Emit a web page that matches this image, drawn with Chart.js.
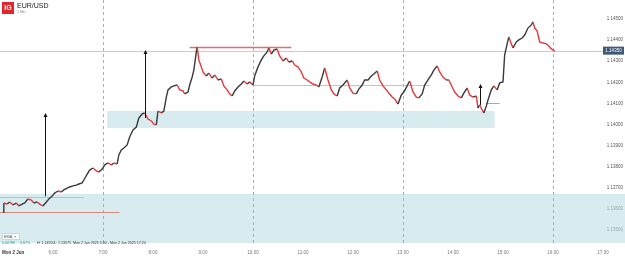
<!DOCTYPE html>
<html>
<head>
<meta charset="utf-8">
<script src="https://cdn.jsdelivr.net/npm/chart.js@4"></script>
<style>
  html, body { margin: 0; padding: 0; background: #fff; }
  #wrap { width: 625px; height: 257px; position: relative; }
</style>
</head>
<body>
<div id="wrap"><canvas id="chart"></canvas></div>
<script>
// ===== EUR/USD 1 MIN CHART =====

// time of each close, Mon 2 Jun
const times = [
  '05:00','05:01','05:05','05:08','05:12','05:16','05:19','05:23','05:26','05:30',
  '05:34','05:37','05:41','05:44','05:48','05:52','05:55','05:59','06:02','06:06',
  '06:10','06:13','06:17','06:20','06:24','06:28','06:31','06:35','06:37','06:41',
  '06:44','06:48','06:52','06:55','06:59','07:02','07:06','07:10','07:13','07:17',
  '07:19','07:22','07:25','07:29','07:32','07:36','07:40','07:43','07:47','07:50',
  '07:54','07:58','08:01','08:04','08:06','08:10','08:13','08:16','08:18','08:22',
  '08:25','08:29','08:32','08:36','08:38','08:42','08:44','08:47','08:49','08:52',
  '08:53','08:55','08:58','09:00','09:04','09:07','09:11','09:14','09:18','09:22',
  '09:25','09:29','09:32','09:35','09:38','09:42','09:46','09:49','09:53','09:56',
  '10:00','10:02','10:06','10:10','10:13','10:17','10:19','10:22','10:25','10:29',
  '10:32','10:36','10:40','10:43','10:47','10:50','10:54','10:58','11:01','11:05',
  '11:08','11:12','11:16','11:19','11:23','11:26','11:30','11:34','11:37','11:41',
  '11:44','11:48','11:53','11:56','12:00','12:04','12:07','12:11','12:14','12:18',
  '12:22','12:25','12:29','12:32','12:36','12:40','12:43','12:47','12:50','12:54',
  '12:58','13:01','13:05','13:08','13:12','13:16','13:19','13:23','13:26','13:30',
  '13:34','13:37','13:41','13:44','13:48','13:52','13:55','13:59','14:02','14:06',
  '14:10','14:13','14:17','14:20','14:24','14:28','14:30','14:32','14:35','14:37',
  '14:40','14:42','14:46','14:49','14:53','14:56','15:00','15:02','15:05','15:07',
  '15:10','15:12','15:16','15:19','15:23','15:26','15:30','15:34','15:36','15:38',
  '15:41','15:44','15:48','15:52','15:55','15:58','16:02'
];

const closes = [
  1.13585,1.13628,1.13623,1.13633,1.13619,1.13628,1.13614,1.13623,1.13628,1.13647,
  1.13642,1.13628,1.13633,1.13623,1.13614,1.13633,1.13647,1.13661,1.13675,1.13685,
  1.13680,1.13690,1.13699,1.13704,1.13709,1.13713,1.13718,1.13723,1.13737,1.13765,
  1.13784,1.13794,1.13780,1.13775,1.13789,1.13808,1.13818,1.13808,1.13818,1.13813,
  1.13856,1.13879,1.13889,1.13903,1.13941,1.13974,1.13988,1.14031,1.14050,1.14055,
  1.14026,1.14017,1.14002,1.13998,1.14064,1.14055,1.14064,1.14130,1.14164,1.14178,
  1.14183,1.14187,1.14164,1.14159,1.14145,1.14154,1.14187,1.14225,1.14258,1.14344,
  1.14367,1.14306,1.14273,1.14249,1.14230,1.14244,1.14220,1.14235,1.14211,1.14216,
  1.14183,1.14164,1.14145,1.14135,1.14159,1.14178,1.14192,1.14206,1.14192,1.14202,
  1.14187,1.14230,1.14273,1.14306,1.14325,1.14344,1.14363,1.14334,1.14353,1.14358,
  1.14325,1.14301,1.14315,1.14296,1.14301,1.14282,1.14273,1.14249,1.14220,1.14211,
  1.14202,1.14192,1.14187,1.14178,1.14225,1.14268,1.14211,1.14164,1.14145,1.14135,
  1.14173,1.14187,1.14211,1.14173,1.14149,1.14145,1.14168,1.14187,1.14211,1.14211,
  1.14230,1.14239,1.14254,1.14211,1.14183,1.14164,1.14149,1.14130,1.14121,1.14097,
  1.14140,1.14154,1.14183,1.14206,1.14154,1.14130,1.14126,1.14145,1.14187,1.14211,
  1.14235,1.14258,1.14277,1.14249,1.14225,1.14211,1.14211,1.14178,1.14154,1.14135,
  1.14126,1.14149,1.14173,1.14140,1.14130,1.14135,1.14078,1.14093,1.14069,1.14055,
  1.14088,1.14116,1.14164,1.14183,1.14164,1.14197,1.14202,1.14330,1.14382,1.14415,
  1.14382,1.14363,1.14391,1.14401,1.14410,1.14424,1.14457,1.14472,1.14486,1.14457,
  1.14443,1.14391,1.14386,1.14382,1.14372,1.14358,1.14348
];

// axis ticks
const hourTicks = ['06:00','07:00','08:00','09:00','10:00','11:00','12:00','13:00','14:00','15:00','16:00','17:00'];
const priceTicks = [1.135,1.136,1.137,1.138,1.139,1.140,1.141,1.142,1.143,1.144,1.145];
const sessionLines = ['07:00','10:00','13:00','16:00'];

// drawn zones / levels / arrows (from: null = left edge)
const zones = [
  { from: null,    to: null,    top: 1.13671, bottom: null },
  { from: '07:05', to: '14:50', top: 1.14064, bottom: 1.13983 }
];
const levels = [
  { from: '08:44', to: '10:46', price: 1.14367, color: 'rgba(235,80,80,0.85)', width: 1.5 },
  { from: '10:00', to: '13:32', price: 1.14187, color: '#c4c4c4', width: 1 },
  { from: null,    to: '06:37', price: 1.13656, color: '#b9c3c6', width: 1 },
  { from: null,    to: '07:20', price: 1.13585, color: 'rgba(225,110,110,0.8)', width: 1 },
  { from: '14:40', to: '14:56', price: 1.14102, color: 'rgba(225,110,110,0.8)', width: 1 }
];
const arrows = [
  { at: '05:50', from: 1.13660, to: 1.14055 },
  { at: '07:50', from: 1.14031, to: 1.14353 },
  { at: '14:32', from: 1.14093, to: 1.14192 }
];
const lastPrice = 1.14350;

const toMin = s => {
  const [h, m] = s.split(':').map(Number);
  return (h - 5) * 60 + m;
};

const points = times.map((t, i) => ({ x: toMin(t), y: closes[i] }));

const overlayPlugin = {
  id: 'overlay',
  beforeDatasetsDraw(chart) {
    const { ctx, chartArea, scales } = chart;
    const xs = scales.x, ys = scales.y;
    const px = t => (t ? xs.getPixelForValue(toMin(t)) : 0);
    ctx.save();

    // zones
    ctx.fillStyle = 'rgba(190,222,228,0.6)';
    zones.forEach(z => {
      const x1 = px(z.from);
      const x2 = z.to ? px(z.to) : chart.width;
      const y1 = ys.getPixelForValue(z.top);
      const y2 = z.bottom ? ys.getPixelForValue(z.bottom) : chartArea.bottom - 2;
      ctx.fillRect(x1, y1, x2 - x1, y2 - y1);
    });

    // last price line
    const yl = Math.round(ys.getPixelForValue(lastPrice)) + 0.5;
    ctx.strokeStyle = '#c9ccd6';
    ctx.lineWidth = 1;
    ctx.beginPath();
    ctx.moveTo(0, yl);
    ctx.lineTo(603, yl);
    ctx.stroke();

    // session separators
    ctx.strokeStyle = '#6fc6d0';
    ctx.setLineDash([3, 3]);
    sessionLines.forEach(t => {
      const x = Math.round(px(t)) + 0.5;
      ctx.beginPath();
      ctx.moveTo(x, 0);
      ctx.lineTo(x, chartArea.bottom - 2);
      ctx.stroke();
    });
    ctx.setLineDash([]);

    // levels
    levels.forEach(l => {
      const y = Math.round(ys.getPixelForValue(l.price)) + 0.5;
      ctx.strokeStyle = l.color;
      ctx.lineWidth = l.width;
      ctx.beginPath();
      ctx.moveTo(px(l.from), y);
      ctx.lineTo(px(l.to), y);
      ctx.stroke();
    });
    ctx.restore();
  },
  afterDatasetsDraw(chart) {
    const { ctx, chartArea, scales } = chart;
    const xs = scales.x, ys = scales.y;
    ctx.save();

    // arrows
    ctx.strokeStyle = '#111';
    ctx.fillStyle = '#111';
    ctx.lineWidth = 1;
    arrows.forEach(a => {
      const x = Math.round(xs.getPixelForValue(toMin(a.at))) + 0.5;
      const y1 = ys.getPixelForValue(a.from);
      const y2 = ys.getPixelForValue(a.to);
      ctx.beginPath();
      ctx.moveTo(x, y1);
      ctx.lineTo(x, y2 + 2);
      ctx.stroke();
      ctx.beginPath();
      ctx.moveTo(x, y2);
      ctx.lineTo(x - 2, y2 + 4);
      ctx.lineTo(x + 2, y2 + 4);
      ctx.closePath();
      ctx.fill();
    });

    // last price tag
    const yl = ys.getPixelForValue(lastPrice);
    ctx.fillStyle = '#3e5878';
    ctx.fillRect(603, yl - 4, 21, 8);
    ctx.fillStyle = '#fff';
    ctx.font = '4.5px "Liberation Sans", Arial, sans-serif';
    ctx.textAlign = 'center';
    ctx.textBaseline = 'middle';
    ctx.fillText(lastPrice.toFixed(5), 613.5, yl + 0.3);

    // header
    ctx.fillStyle = '#e3262b';
    ctx.fillRect(2, 2, 12, 12);
    ctx.fillStyle = '#fff';
    ctx.font = 'bold 7px "Liberation Sans", Arial, sans-serif';
    ctx.fillText('IG', 8, 8.5);
    ctx.textAlign = 'left';
    ctx.fillStyle = '#222';
    ctx.font = '7px "Liberation Sans", Arial, sans-serif';
    ctx.fillText('EUR/USD', 17, 6);
    ctx.fillStyle = '#888';
    ctx.font = '3.5px "Liberation Sans", Arial, sans-serif';
    ctx.fillText('1 Min', 17, 12);

    // indicator chip + summary
    ctx.fillStyle = 'rgba(255,255,255,0.85)';
    ctx.fillRect(2, 233, 18, 7);
    ctx.strokeStyle = '#d5d5d5';
    ctx.strokeRect(2.5, 233.5, 17, 6);
    ctx.fillStyle = '#555';
    ctx.font = '3.8px "Liberation Sans", Arial, sans-serif';
    ctx.fillText('EMA  \u00d7', 4, 236.8);

    ctx.font = '3.6px "Liberation Sans", Arial, sans-serif';
    ctx.fillStyle = '#1f9d8a';
    ctx.fillText('0.00788', 2, 243);
    ctx.fillText('0.67%', 20, 243);
    ctx.fillStyle = '#333';
    ctx.fillText('H: 1.14550', 37, 243);
    ctx.fillText('L: 1.13575', 54, 243);
    ctx.fillText('Mon 2 Jun 2025 5:00 - Mon 2 Jun 2025 17:24', 73, 243);

    // first x label
    ctx.fillStyle = '#333';
    ctx.font = 'bold 4.5px "Liberation Sans", Arial, sans-serif';
    ctx.fillText('Mon 2 Jun', 2, chartArea.bottom + 8);
    ctx.restore();
  }
};

new Chart(document.getElementById('chart'), {
  type: 'line',
  data: {
    datasets: [{
      data: points,
      borderWidth: 1.4,
      pointRadius: 0,
      tension: 0,
      borderColor: '#333',
      segment: {
        borderColor: c => c.p1.parsed.y >= c.p0.parsed.y ? '#3a3a3a' : '#e3393c'
      }
    }]
  },
  options: {
    responsive: true,
    maintainAspectRatio: false,
    animation: false,
    layout: { padding: 0 },
    plugins: { legend: { display: false }, tooltip: { enabled: false } },
    scales: {
      x: {
        type: 'linear',
        min: -3.6,
        max: 746.4,
        grid: { display: false, drawTicks: false },
        border: { display: false },
        afterFit: s => { s.height = 12; s.paddingLeft = 0; s.paddingRight = 0; },
        afterBuildTicks: s => { s.ticks = hourTicks.map(t => ({ value: toMin(t) })); },
        ticks: {
          padding: 5,
          maxRotation: 0,
          autoSkip: false,
          color: '#777',
          font: { size: 4.5, family: '"Liberation Sans", Arial, sans-serif' },
          callback: v => (5 + v / 60) + ':00'
        }
      },
      y: {
        position: 'right',
        min: 1.13429,
        max: 1.1459,
        grid: { display: false, drawTicks: false },
        border: { display: false },
        afterFit: s => { s.width = 0; s.paddingTop = 0; s.paddingBottom = 0; },
        afterBuildTicks: s => { s.ticks = priceTicks.map(v => ({ value: v })); },
        ticks: {
          mirror: true,
          padding: -2,
          color: '#555',
          font: { size: 4.5, family: '"Liberation Sans", Arial, sans-serif' },
          callback: v => v.toFixed(5)
        }
      }
    }
  },
  plugins: [overlayPlugin]
});
</script>
</body>
</html>
